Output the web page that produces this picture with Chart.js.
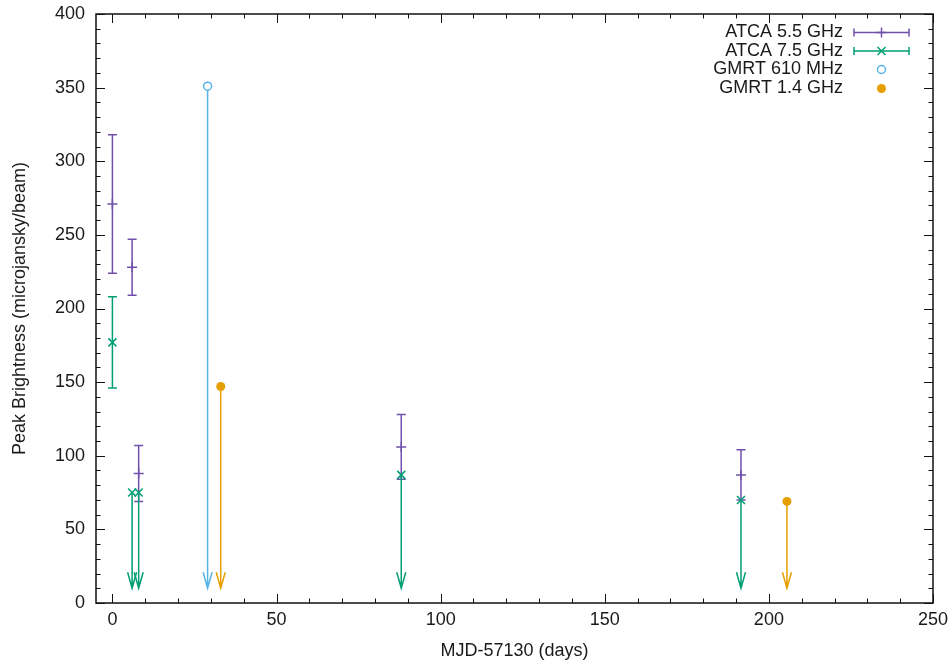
<!DOCTYPE html>
<html>
<head>
<meta charset="utf-8">
<script src="https://cdn.jsdelivr.net/npm/chart.js@4.4.1/dist/chart.umd.min.js"></script>
<style>
  html, body { margin: 0; padding: 0; background: #fff; }
  #wrap { width: 952px; height: 669px; }
</style>
</head>
<body>
<div id="wrap"><canvas id="peakChart" width="952" height="669"></canvas></div>
<script>
// tick labels
var xTicks = [0, 50, 100, 150, 200, 250];
var yTicks = [0, 50, 100, 150, 200, 250, 300, 350, 400];

// ATCA 5.5 GHz detections with errors
var atca55X = [0, 6, 8, 88, 191.5];
var atca55Y = [271, 228, 88, 106, 87];
var atca55Err = [47, 19, 19, 22, 17];

// ATCA 7.5 GHz (first is a detection, rest are upper limits)
var atca75X = [0, 6, 8, 88, 191.5];
var atca75Y = [177, 75, 75, 87, 70];
var atca75Err = [31, 0, 0, 0, 0];
var atca75Limit = [false, true, true, true, true];

// GMRT upper limits
var gmrt610X = [29];
var gmrt610Y = [351];
var gmrt14X = [33, 205.5];
var gmrt14Y = [147, 69];

// limit arrows point down to this value
var arrowTo = 10;

var FONT = '"Liberation Sans", Arial, Helvetica, sans-serif';
var purple = '#7050ac';
var green = '#009e73';
var blue = '#56b4e9';
var orange = '#e69f00';

function pts(xs, ys) {
  return xs.map(function (v, i) { return { x: v, y: ys[i] }; });
}

var series = [
  { label: 'ATCA 5.5 GHz', color: purple, xs: atca55X, ys: atca55Y, errs: atca55Err, limits: null, style: 'cross', bars: true },
  { label: 'ATCA 7.5 GHz', color: green, xs: atca75X, ys: atca75Y, errs: atca75Err, limits: atca75Limit, style: 'crossRot', bars: true },
  { label: 'GMRT 610 MHz', color: blue, xs: gmrt610X, ys: gmrt610Y, errs: null, limits: gmrt610X.map(function () { return true; }), style: 'open', bars: false },
  { label: 'GMRT 1.4 GHz', color: orange, xs: gmrt14X, ys: gmrt14Y, errs: null, limits: gmrt14X.map(function () { return true; }), style: 'filled', bars: false }
];

function drawMarker(ctx, style, px, py, color) {
  ctx.strokeStyle = color;
  ctx.fillStyle = color;
  ctx.lineWidth = 1.5;
  ctx.beginPath();
  if (style === 'cross') {
    ctx.moveTo(px - 5, py); ctx.lineTo(px + 5, py);
    ctx.moveTo(px, py - 5); ctx.lineTo(px, py + 5);
    ctx.stroke();
  } else if (style === 'crossRot') {
    ctx.moveTo(px - 4, py - 4); ctx.lineTo(px + 4, py + 4);
    ctx.moveTo(px - 4, py + 4); ctx.lineTo(px + 4, py - 4);
    ctx.stroke();
  } else if (style === 'open') {
    ctx.fillStyle = '#fff';
    ctx.arc(px, py, 4, 0, Math.PI * 2);
    ctx.fill(); ctx.stroke();
  } else {
    ctx.arc(px, py, 4.5, 0, Math.PI * 2);
    ctx.fill();
  }
}

var gnuplotLook = {
  id: 'gnuplotLook',
  beforeDatasetsDraw: function (chart) {
    var ctx = chart.ctx, x = chart.scales.x, y = chart.scales.y;
    ctx.save();
    ctx.lineWidth = 1.5;
    series.forEach(function (s) {
      ctx.strokeStyle = s.color;
      s.xs.forEach(function (xv, i) {
        var px = x.getPixelForValue(xv);
        if (s.errs && s.errs[i]) {
          var y1 = y.getPixelForValue(s.ys[i] - s.errs[i]);
          var y2 = y.getPixelForValue(s.ys[i] + s.errs[i]);
          ctx.beginPath();
          ctx.moveTo(px, y1); ctx.lineTo(px, y2);
          ctx.moveTo(px - 4.5, y1); ctx.lineTo(px + 4.5, y1);
          ctx.moveTo(px - 4.5, y2); ctx.lineTo(px + 4.5, y2);
          ctx.stroke();
        }
        if (s.limits && s.limits[i]) {
          var ys = y.getPixelForValue(s.ys[i]);
          var tip = y.getPixelForValue(arrowTo);
          ctx.beginPath();
          ctx.moveTo(px, ys); ctx.lineTo(px, tip);
          ctx.moveTo(px - 4.5, tip - 16); ctx.lineTo(px, tip); ctx.lineTo(px + 4.5, tip - 16);
          ctx.stroke();
        }
      });
    });
    ctx.restore();
  },
  afterDraw: function (chart) {
    var ctx = chart.ctx, a = chart.chartArea, x = chart.scales.x, y = chart.scales.y;
    ctx.save();
    // frame
    ctx.strokeStyle = '#111';
    ctx.lineWidth = 1.5;
    ctx.strokeRect(a.left, a.top, a.right - a.left, a.bottom - a.top);
    // inward ticks, mirrored
    ctx.lineWidth = 1;
    ctx.beginPath();
    for (var v = 0; v <= 250; v += 10) {
      var px = Math.round(x.getPixelForValue(v)) + 0.5;
      var len = (v % 50 === 0) ? 9 : 4.5;
      ctx.moveTo(px, a.bottom); ctx.lineTo(px, a.bottom - len);
      ctx.moveTo(px, a.top); ctx.lineTo(px, a.top + len);
    }
    for (var w = 0; w <= 400; w += 10) {
      var py = Math.round(y.getPixelForValue(w)) + 0.5;
      var l2 = (w % 50 === 0) ? 9 : 4.5;
      ctx.moveTo(a.left, py); ctx.lineTo(a.left + l2, py);
      ctx.moveTo(a.right, py); ctx.lineTo(a.right - l2, py);
    }
    ctx.stroke();

    // legend, gnuplot style
    ctx.font = '18px ' + FONT;
    ctx.textAlign = 'right';
    ctx.textBaseline = 'middle';
    var rows = [32.5, 51, 69.5, 88.5];
    series.forEach(function (s, i) {
      var ry = rows[i];
      ctx.fillStyle = '#1a1a1a';
      ctx.fillText(s.label, 843, ry);
      var cx = 881.5;
      if (s.bars) {
        ctx.strokeStyle = s.color;
        ctx.lineWidth = 1.5;
        ctx.beginPath();
        ctx.moveTo(854, ry); ctx.lineTo(909, ry);
        ctx.moveTo(854, ry - 4); ctx.lineTo(854, ry + 4);
        ctx.moveTo(909, ry - 4); ctx.lineTo(909, ry + 4);
        ctx.stroke();
      }
      drawMarker(ctx, s.style, cx, ry, s.color);
    });
    ctx.restore();
  }
};

var markerPlugin = {
  id: 'markerPlugin',
  afterDatasetsDraw: function (chart) {
    var ctx = chart.ctx;
    ctx.save();
    chart.data.datasets.forEach(function (ds, di) {
      var meta = chart.getDatasetMeta(di);
      meta.data.forEach(function (el) {
        drawMarker(ctx, series[di].style, el.x, el.y, series[di].color);
      });
    });
    ctx.restore();
  }
};

var ctxEl = document.getElementById('peakChart');
new Chart(ctxEl, {
  type: 'scatter',
  data: {
    datasets: series.map(function (s) {
      return {
        label: s.label,
        data: pts(s.xs, s.ys),
        pointRadius: 0,
        pointHoverRadius: 0,
        borderColor: s.color,
        backgroundColor: s.color,
        showLine: false
      };
    })
  },
  options: {
    responsive: false,
    animation: false,
    events: [],
    layout: { padding: { left: 0, right: 19, top: 14, bottom: 0 } },
    plugins: {
      legend: { display: false },
      tooltip: { enabled: false }
    },
    scales: {
      x: {
        type: 'linear',
        min: -5,
        max: 250,
        grid: { display: false, drawTicks: false },
        border: { display: false },
        afterBuildTicks: function (scale) { scale.ticks = xTicks.map(function (v) { return { value: v }; }); },
        afterFit: function (scale) { scale.height = 66; scale.paddingLeft = 0; scale.paddingRight = 0; },
        ticks: { padding: 6, color: '#1a1a1a', font: { family: FONT, size: 18 }, maxRotation: 0 },
        title: { display: true, text: 'MJD-57130 (days)', color: '#1a1a1a', font: { family: FONT, size: 18 }, padding: { top: 0, bottom: 7 } }
      },
      y: {
        type: 'linear',
        min: 0,
        max: 400,
        grid: { display: false, drawTicks: false },
        border: { display: false },
        afterBuildTicks: function (scale) { scale.ticks = yTicks.map(function (v) { return { value: v }; }); },
        afterFit: function (scale) { scale.width = 96; scale.paddingTop = 0; scale.paddingBottom = 0; },
        ticks: { padding: 11, color: '#1a1a1a', font: { family: FONT, size: 18 } },
        title: { display: true, text: 'Peak Brightness (microjansky/beam)', color: '#1a1a1a', font: { family: FONT, size: 18 }, padding: { top: 9, bottom: 0 } }
      }
    }
  },
  plugins: [gnuplotLook, markerPlugin]
});
</script>
</body>
</html>
